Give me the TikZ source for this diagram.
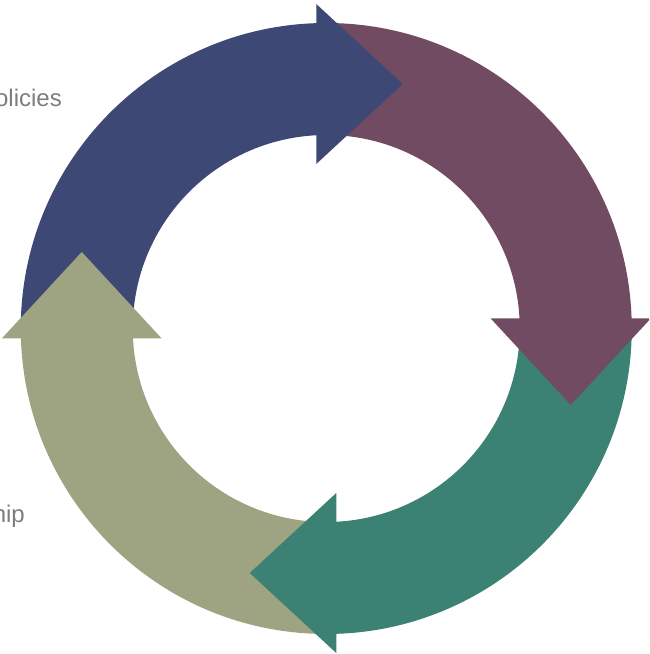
\documentclass[tikz,border=0pt]{standalone}
\usepackage{fontspec}
\setmainfont{Liberation Sans}
\definecolor{cblue}{RGB}{61,72,116}
\definecolor{cmaroon}{RGB}{113,75,98}
\definecolor{cteal}{RGB}{60,130,116}
\definecolor{colive}{RGB}{158,163,130}
\definecolor{ctext}{RGB}{125,125,125}
\tikzset{
  lbl/.style={inner sep=0pt, text=ctext, font=\fontsize{24}{28}\selectfont},
}
\newcommand{\bandsector}[3]{%
  \fill[#1] (#2:305.5) arc[start angle=#2,end angle=#3,radius=305.5]
    -- (#3:193.5) arc[start angle=#3,end angle=#2,radius=193.5] -- cycle;}
\newcommand{\headtri}[2]{%
  \fill[#1, rotate=#2] (-10,324.5) -- (76.5,244.5) -- (-10,164.5) -- cycle;}
\begin{document}
\begin{tikzpicture}[x=1pt,y=1pt]
\useasboundingbox (0,0) rectangle (649,654);
\begin{scope}
\clip (0,0) rectangle (649,654);
\begin{scope}[shift={(326.25,325.5)}]
  \bandsector{cblue}{180}{90}
  \bandsector{cmaroon}{90}{0}
  \bandsector{cteal}{0}{-90}
  \bandsector{colive}{-90}{-180}
  \headtri{cblue}{0}
  \headtri{cmaroon}{-90}
  \headtri{cteal}{-180}
  \headtri{colive}{-270}
\end{scope}
\node[lbl, anchor=base east] (t1) at (62,547) {olicies};
\node[lbl, anchor=base east] (t2) at (25,131) {hip};
\end{scope}
\end{tikzpicture}
\end{document}
